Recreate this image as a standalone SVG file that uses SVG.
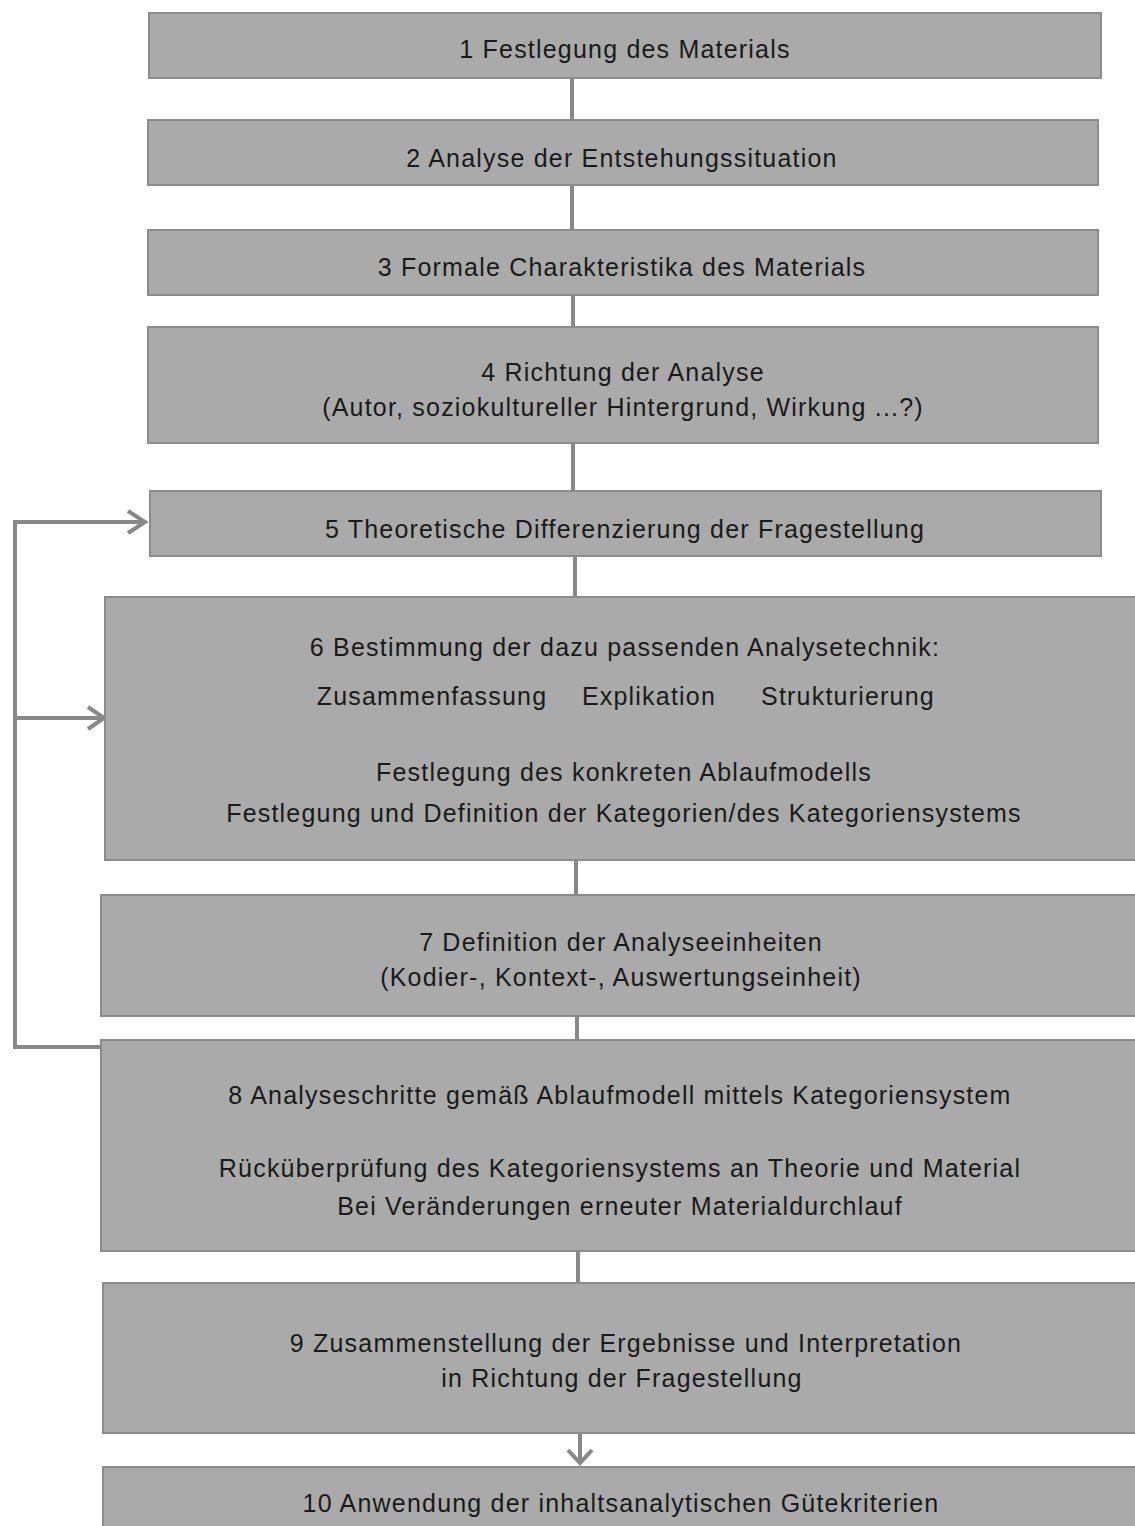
<svg xmlns="http://www.w3.org/2000/svg" width="1135" height="1526" viewBox="0 0 1135 1526">
  <style>
    .box { fill: #aaaaaa; stroke: #8c8c8c; stroke-width: 2; }
    .lbl { font-family: "Liberation Sans", Arial, sans-serif; font-size: 25px; fill: #1a1a1a; text-anchor: middle; letter-spacing: 1.2px; }
    .wire { fill: none; stroke: #888888; stroke-width: 4; }
    .head { fill: none; stroke: #888888; stroke-width: 4; stroke-linejoin: miter; }
  </style>
  <rect width="1135" height="1526" fill="#ffffff"/>

  <!-- connectors -->
  <g id="connectors">
    <line class="wire" x1="572" y1="78" x2="572" y2="120"/>
    <line class="wire" x1="572" y1="185" x2="572" y2="230"/>
    <line class="wire" x1="573" y1="295" x2="573" y2="327"/>
    <line class="wire" x1="573" y1="443" x2="573" y2="491"/>
    <line class="wire" x1="575" y1="556" x2="575" y2="597"/>
    <line class="wire" x1="576" y1="860" x2="576" y2="895"/>
    <line class="wire" x1="577" y1="1016" x2="577" y2="1040"/>
    <line class="wire" x1="578" y1="1251" x2="578" y2="1283"/>
    <line class="wire" x1="580" y1="1433" x2="580" y2="1464"/>
    <polyline class="head" points="568,1450 580,1463 592,1450"/>
    <!-- feedback loop from step 8 back to steps 5 and 6 -->
    <polyline class="wire" points="101,1047 15,1047 15,522 145,522"/>
    <polyline class="head" points="128,511 145,522 128,533"/>
    <line class="wire" x1="15" y1="718" x2="104" y2="718"/>
    <polyline class="head" points="88,707 104,718 88,729"/>
  </g>

  <g id="step1">
    <rect class="box" x="149" y="13" width="952" height="65"/>
    <text class="lbl" x="625" y="58">1 Festlegung des Materials</text>
  </g>
  <g id="step2">
    <rect class="box" x="148" y="120" width="950" height="65"/>
    <text class="lbl" x="622" y="167">2 Analyse der Entstehungssituation</text>
  </g>
  <g id="step3">
    <rect class="box" x="148" y="230" width="950" height="65"/>
    <text class="lbl" x="622" y="276">3 Formale Charakteristika des Materials</text>
  </g>
  <g id="step4">
    <rect class="box" x="148" y="327" width="950" height="116"/>
    <text class="lbl" x="623" y="381">4 Richtung der Analyse</text>
    <text class="lbl" x="623" y="416">(Autor, soziokultureller Hintergrund, Wirkung ...?)</text>
  </g>
  <g id="step5">
    <rect class="box" x="150" y="491" width="951" height="65"/>
    <text class="lbl" x="625" y="538">5 Theoretische Differenzierung der Fragestellung</text>
  </g>
  <g id="step6">
    <rect class="box" x="105" y="597" width="1040" height="263"/>
    <text class="lbl" x="625" y="656">6 Bestimmung der dazu passenden Analysetechnik:</text>
    <text class="lbl" x="432" y="705">Zusammenfassung</text>
    <text class="lbl" x="649" y="705">Explikation</text>
    <text class="lbl" x="848" y="705">Strukturierung</text>
    <text class="lbl" x="624" y="781">Festlegung des konkreten Ablaufmodells</text>
    <text class="lbl" x="624" y="822">Festlegung und Definition der Kategorien/des Kategoriensystems</text>
  </g>
  <g id="step7">
    <rect class="box" x="101" y="895" width="1044" height="121"/>
    <text class="lbl" x="621" y="951">7 Definition der Analyseeinheiten</text>
    <text class="lbl" x="621" y="986">(Kodier-, Kontext-, Auswertungseinheit)</text>
  </g>
  <g id="step8">
    <rect class="box" x="101" y="1040" width="1044" height="211"/>
    <text class="lbl" x="620" y="1104">8 Analyseschritte gemäß Ablaufmodell mittels Kategoriensystem</text>
    <text class="lbl" x="620" y="1177">Rücküberprüfung des Kategoriensystems an Theorie und Material</text>
    <text class="lbl" x="620" y="1215">Bei Veränderungen erneuter Materialdurchlauf</text>
  </g>
  <g id="step9">
    <rect class="box" x="103" y="1283" width="1042" height="150"/>
    <text class="lbl" x="626" y="1352">9 Zusammenstellung der Ergebnisse und Interpretation</text>
    <text class="lbl" x="622" y="1387">in Richtung der Fragestellung</text>
  </g>
  <g id="step10">
    <rect class="box" x="103" y="1467" width="1042" height="70"/>
    <text class="lbl" x="621" y="1512">10 Anwendung der inhaltsanalytischen Gütekriterien</text>
  </g>
</svg>
